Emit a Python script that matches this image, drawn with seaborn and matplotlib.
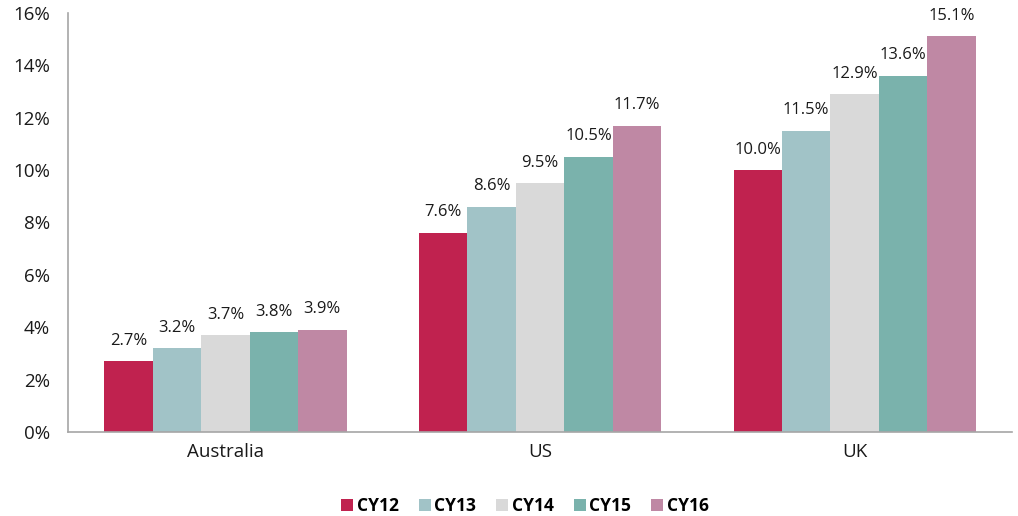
import pandas as pd
import matplotlib.pyplot as plt
import seaborn as sns

# data
countries = ['Australia', 'US', 'UK']
years = ['CY12', 'CY13', 'CY14', 'CY15', 'CY16']
cy12 = [2.7, 7.6, 10.0]
cy13 = [3.2, 8.6, 11.5]
cy14 = [3.7, 9.5, 12.9]
cy15 = [3.8, 10.5, 13.6]
cy16 = [3.9, 11.7, 15.1]
colors = ['#C0224F', '#A1C3C7', '#D9D9D9', '#7AB2AC', '#BF88A4']


def main():
    rows = []
    for year, vals in zip(years, [cy12, cy13, cy14, cy15, cy16]):
        for country, v in zip(countries, vals):
            rows.append({'country': country, 'year': year, 'value': v})
    df = pd.DataFrame(rows)

    sns.set_theme(style="white")
    plt.rcParams['font.family'] = ['Open Sans', 'DejaVu Sans']

    fig = plt.figure(figsize=(10.18, 5.16), dpi=100)
    ax = fig.add_axes([0.067, 0.163, 0.927, 0.812])

    sns.barplot(data=df, x='country', y='value', hue='year', palette=colors,
                width=0.77, saturation=1, ax=ax, linewidth=0)

    # labels above bars
    for cont in ax.containers:
        ax.bar_label(cont, fmt='%.1f%%', padding=9, fontsize=12, color='#1a1a1a')

    ax.set_ylim(0, 16)
    ax.set_xlim(-0.5, 2.5)
    ax.set_yticks(range(0, 17, 2))
    ax.set_yticklabels([f'{t}%' for t in range(0, 17, 2)])
    ax.set_xlabel('')
    ax.set_ylabel('')
    ax.tick_params(axis='both', length=0, labelsize=13.5, colors='#1a1a1a')
    ax.tick_params(axis='y', pad=13)
    ax.tick_params(axis='x', pad=8)

    sns.despine(ax=ax)
    for side in ['left', 'bottom']:
        ax.spines[side].set_color('#A6A6A6')
        ax.spines[side].set_linewidth(1.2)

    leg = ax.legend(loc='center', bbox_to_anchor=(0.484, -0.178), ncol=5,
                    frameon=False, handlelength=0.7, handleheight=0.7,
                    handletextpad=0.2, columnspacing=1.15,
                    prop={'weight': 'bold', 'size': 12.5})
    for t in leg.get_texts():
        t.set_color('#000000')

    fig.savefig('out.png', dpi=100)
    plt.close(fig)


if __name__ == "__main__":
    main()
